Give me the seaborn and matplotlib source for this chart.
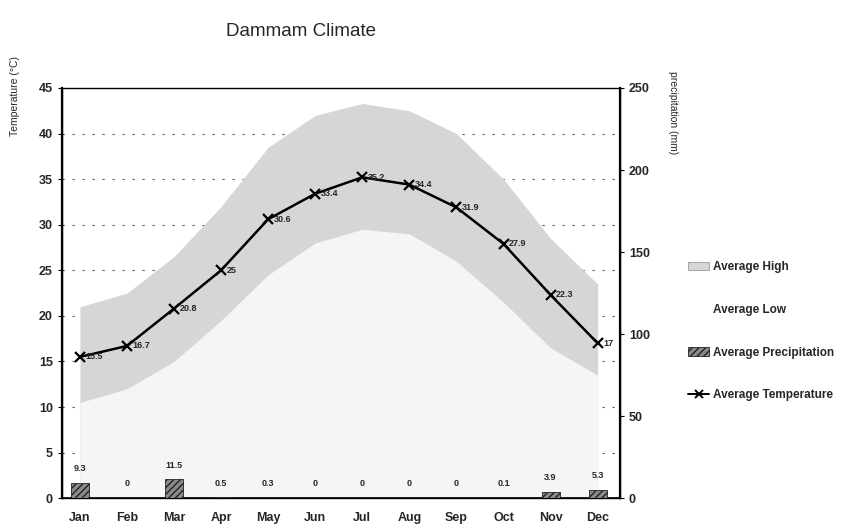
import numpy as np
import pandas as pd
import matplotlib
matplotlib.use("Agg")
import matplotlib.pyplot as plt
import seaborn as sns
from matplotlib.patches import Patch
from matplotlib.lines import Line2D

months = ["Jan", "Feb", "Mar", "Apr", "May", "Jun", "Jul", "Aug", "Sep", "Oct", "Nov", "Dec"]
avg_high = [21.0, 22.5, 26.5, 32.0, 38.5, 42.0, 43.3, 42.5, 40.0, 35.0, 28.5, 23.5]
avg_low = [10.5, 12.0, 15.0, 19.5, 24.5, 28.0, 29.5, 29.0, 26.0, 21.5, 16.5, 13.5]
avg_temp = [15.5, 16.7, 20.8, 25.0, 30.6, 33.4, 35.2, 34.4, 31.9, 27.9, 22.3, 17.0]
precip = [9.3, 0, 11.5, 0.5, 0.3, 0, 0, 0, 0, 0.1, 3.9, 5.3]

sns.set_style("white")
plt.rcParams["font.family"] = ["Liberation Sans", "DejaVu Sans"]

df = pd.DataFrame({"month": months, "high": avg_high, "low": avg_low,
                   "temp": avg_temp, "precip": precip})

fig = plt.figure(figsize=(8.49, 5.30), dpi=100)
ax = fig.add_axes([0.073, 0.060, 0.657, 0.774])
ax2 = ax.twinx()

xpos = np.arange(len(months))
for yv in range(5, 45, 5):
    ax.axhline(yv, color="#555555", lw=0.8, ls=(0, (2, 7)), zorder=0.1)
ax.fill_between(xpos, 0, df["high"], color="#d6d6d6", lw=0, zorder=2)
ax.fill_between(xpos, 0, df["low"], color="#f5f5f5", lw=0, zorder=2.1)

sns.lineplot(data=df, x="month", y="temp", ax=ax, color="black", lw=1.8,
             marker="x", markersize=7, markeredgewidth=1.6, markeredgecolor="black",
             zorder=5, sort=False)
for i, v in enumerate(avg_temp):
    lab = f"{v:g}"
    ax.annotate(lab, (i, v), xytext=(4, 0), textcoords="offset points",
                fontsize=6.5, fontweight="bold", va="center", ha="left", zorder=6)

sns.barplot(data=df, x="month", y="precip", ax=ax2, color="#8a8a8a", width=0.38,
            edgecolor="#222222", linewidth=0.6, zorder=3)
for p in ax2.patches:
    p.set_hatch("/////")
for i, v in enumerate(precip):
    ax2.annotate(f"{v:g}", (i, v), xytext=(0, 7), textcoords="offset points",
                 fontsize=6.5, fontweight="bold", ha="center", va="bottom")

ax.set_xlim(-0.38, 11.47)
ax.set_ylim(0, 45)
ax.set_yticks(range(0, 46, 5))
ax2.set_ylim(0, 250)
ax2.set_yticks(range(0, 251, 50))
ax.set_xticks(xpos)
ax.set_xticklabels(months)
ax.set_xlabel("")
ax2.set_xlabel("")

ax.set_ylabel("Temperature (°C)", fontsize=7.5)
ax.yaxis.set_label_coords(-0.075, 0.98)
ax2.set_ylabel("precipitation (mm)", fontsize=7.5, rotation=270)
ax2.yaxis.set_label_coords(1.105, 0.94)

for a in (ax, ax2):
    a.tick_params(axis="both", labelsize=9, length=3, width=0.8, color="black")
    for lab in a.get_xticklabels() + a.get_yticklabels():
        lab.set_fontweight("bold")
    for s in a.spines.values():
        s.set_color("black")
        s.set_linewidth(1.0)
ax.tick_params(axis="x", length=0, pad=10)
ax2.spines["left"].set_linewidth(1.6)
ax2.spines["right"].set_linewidth(1.6)
ax2.spines["bottom"].set_linewidth(1.2)
ax2.spines["top"].set_linewidth(0.6)
ax.grid(False)
ax2.grid(False)

fig.text(0.355, 0.94, "Dammam Climate", fontsize=13.5, ha="center", va="center")

handles = [
    Patch(facecolor="#d6d6d6", edgecolor="#999999", lw=0.6),
    Patch(facecolor="white", edgecolor="white"),
    Patch(facecolor="#8a8a8a", edgecolor="#222222", hatch="/////", lw=0.6),
    Line2D([0], [0], color="black", lw=1.4, marker="x", markersize=6, markeredgewidth=1.4),
]
labels = ["Average High", "Average Low", "Average Precipitation", "Average Temperature"]
leg = fig.legend(handles, labels, loc="center left", bbox_to_anchor=(0.805, 0.375),
                 frameon=False, fontsize=8.5, labelspacing=2.6, handlelength=1.8,
                 handletextpad=0.3, borderaxespad=0)
for t in leg.get_texts():
    t.set_fontweight("bold")

fig.savefig("out.png", dpi=100)
